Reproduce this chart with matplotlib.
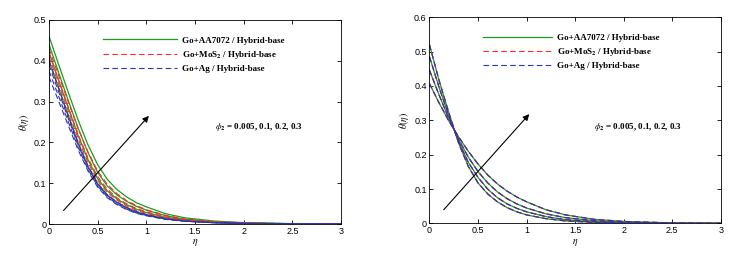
import numpy as np
import matplotlib
matplotlib.use("Agg")
import matplotlib.pyplot as plt

plt.rcParams['font.family'] = ['Liberation Sans', 'DejaVu Sans']
plt.rcParams['mathtext.fontset'] = 'stix'

# eta grid the curves were read on
eta = [0, 0.1, 0.2, 0.3, 0.4, 0.5, 0.6, 0.7, 0.8, 0.9, 1.0, 1.2, 1.4, 1.7, 2.0, 2.5, 3.0]

# left panel, phi2 = 0.005, 0.1, 0.2, 0.3 for each fluid
left_aa7072 = [
    [.400, .332, .264, .198, .142, .099, .071, .053, .040, .030, .023, .013, .0073, .0034, .0016, .0004, .0001],
    [.420, .351, .283, .216, .158, .111, .081, .061, .047, .036, .028, .016, .0092, .0043, .0020, .0005, .0001],
    [.440, .370, .301, .234, .175, .126, .093, .071, .055, .043, .034, .020, .0115, .0055, .0026, .0007, .0002],
    [.460, .390, .321, .254, .194, .145, .109, .084, .066, .052, .042, .025, .0150, .0072, .0034, .0009, .0002],
]
left_mos2 = [
    [.400, .332, .264, .198, .142, .099, .071, .053, .040, .030, .023, .013, .0073, .0034, .0016, .0004, .0001],
    [.410, .342, .274, .208, .151, .106, .077, .058, .044, .033, .026, .015, .0085, .0040, .0019, .0005, .0001],
    [.420, .352, .285, .219, .162, .116, .085, .064, .049, .038, .030, .017, .0098, .0046, .0022, .0006, .0002],
    [.430, .363, .297, .233, .177, .130, .097, .074, .057, .045, .035, .021, .0120, .0057, .0027, .0007, .0002],
]
left_ag = [
    [.400, .332, .264, .198, .142, .099, .071, .053, .040, .030, .023, .013, .0073, .0034, .0016, .0004, .0001],
    [.390, .323, .257, .193, .138, .096, .069, .051, .038, .028, .022, .012, .0070, .0032, .0015, .0004, .0001],
    [.375, .312, .249, .187, .134, .093, .066, .049, .036, .027, .021, .012, .0068, .0031, .0014, .0004, .0001],
    [.360, .300, .240, .181, .130, .090, .064, .047, .035, .026, .020, .011, .0065, .0030, .0014, .0004, .0001],
]

# right panel: the three fluids lie on top of each other
right_curves = [
    [.407, .350, .298, .252, .210, .173, .141, .115, .094, .077, .063, .040, .025, .012, .0060, .0018, .0005],
    [.446, .373, .305, .245, .193, .151, .118, .092, .072, .057, .045, .028, .017, .008, .0038, .0011, .0003],
    [.485, .395, .313, .238, .178, .134, .100, .075, .057, .044, .034, .020, .011, .005, .0023, .0006, .0002],
    [.520, .415, .322, .234, .166, .118, .086, .063, .046, .034, .025, .014, .0075, .0032, .0014, .0004, .0001],
]

labels = ['Go+AA7072 / Hybrid-base', r'Go+MoS$_{\mathbf{2}}$ / Hybrid-base', 'Go+Ag / Hybrid-base']
green = '#1f9a1f'
red = '#ff2a2a'
blue = '#2a34b8'

fig = plt.figure(figsize=(7.43, 2.56), dpi=100)
ax1 = fig.add_axes([0.066, 0.125, 0.393, 0.797])
ax2 = fig.add_axes([0.578, 0.127, 0.392, 0.806])

serif_b = dict(family='Liberation Serif', weight='bold', size=6.5)

def draw(ax, g, r, b):
    for c in g:
        ax.plot(eta, c, color=green, lw=0.9)
    for c in r:
        ax.plot(eta, c, color=red, lw=0.8, dashes=(5, 3))
    for c in b:
        ax.plot(eta, c, color=blue, lw=0.8, dashes=(5, 3))

draw(ax1, left_aa7072, left_mos2, left_ag)
draw(ax2, right_curves, right_curves, right_curves)

for ax, ymax, hlen in [(ax1, 0.5, 8.2), (ax2, 0.6, 7.6)]:
    ax.set_xlim(0, 3)
    ax.set_ylim(0, ymax)
    ax.set_xticks(np.arange(0, 3.01, 0.5))
    ax.set_xticklabels(['0', '0.5', '1', '1.5', '2', '2.5', '3'])
    yt = np.round(np.arange(0, ymax + 0.001, 0.1), 1)
    ax.set_yticks(yt)
    ax.set_yticklabels(['0'] + [str(v) for v in yt[1:]])
    ax.tick_params(direction='in', length=3, width=0.6, labelsize=6.5, top=True, right=True, pad=2)
    for s in ax.spines.values():
        s.set_linewidth(0.6)
    ax.set_xlabel(r'$\eta$', fontsize=7, labelpad=1)
    ax.set_ylabel(r'$\theta(\eta)$', fontsize=7, labelpad=2)
    h = [plt.Line2D([], [], color=green, lw=0.9),
         plt.Line2D([], [], color=red, lw=0.8, dashes=(5, 3)),
         plt.Line2D([], [], color=blue, lw=0.8, dashes=(5, 3))]
    ax.legend(h, labels, loc='upper left', bbox_to_anchor=(0.185, 0.92), frameon=False,
              prop=serif_b, handlelength=hlen, handletextpad=0.55, labelspacing=0.45,
              borderpad=0, borderaxespad=0)

ax1.text(1.71, 0.238, r'$\phi_{\mathbf{2}}$ = 0.005, 0.1, 0.2, 0.3', fontdict=serif_b, va='center')
ax2.text(1.69, 0.282, r'$\phi_{\mathbf{2}}$ = 0.005, 0.1, 0.2, 0.3', fontdict=serif_b, va='center')

ax1.annotate('', xy=(1.045, 0.27), xytext=(0.13, 0.028),
             arrowprops=dict(arrowstyle='-|>', color='black', lw=0.8, mutation_scale=9))
ax2.annotate('', xy=(1.047, 0.324), xytext=(0.128, 0.034),
             arrowprops=dict(arrowstyle='-|>', color='black', lw=0.8, mutation_scale=9))

fig.savefig('out.png', dpi=100)
